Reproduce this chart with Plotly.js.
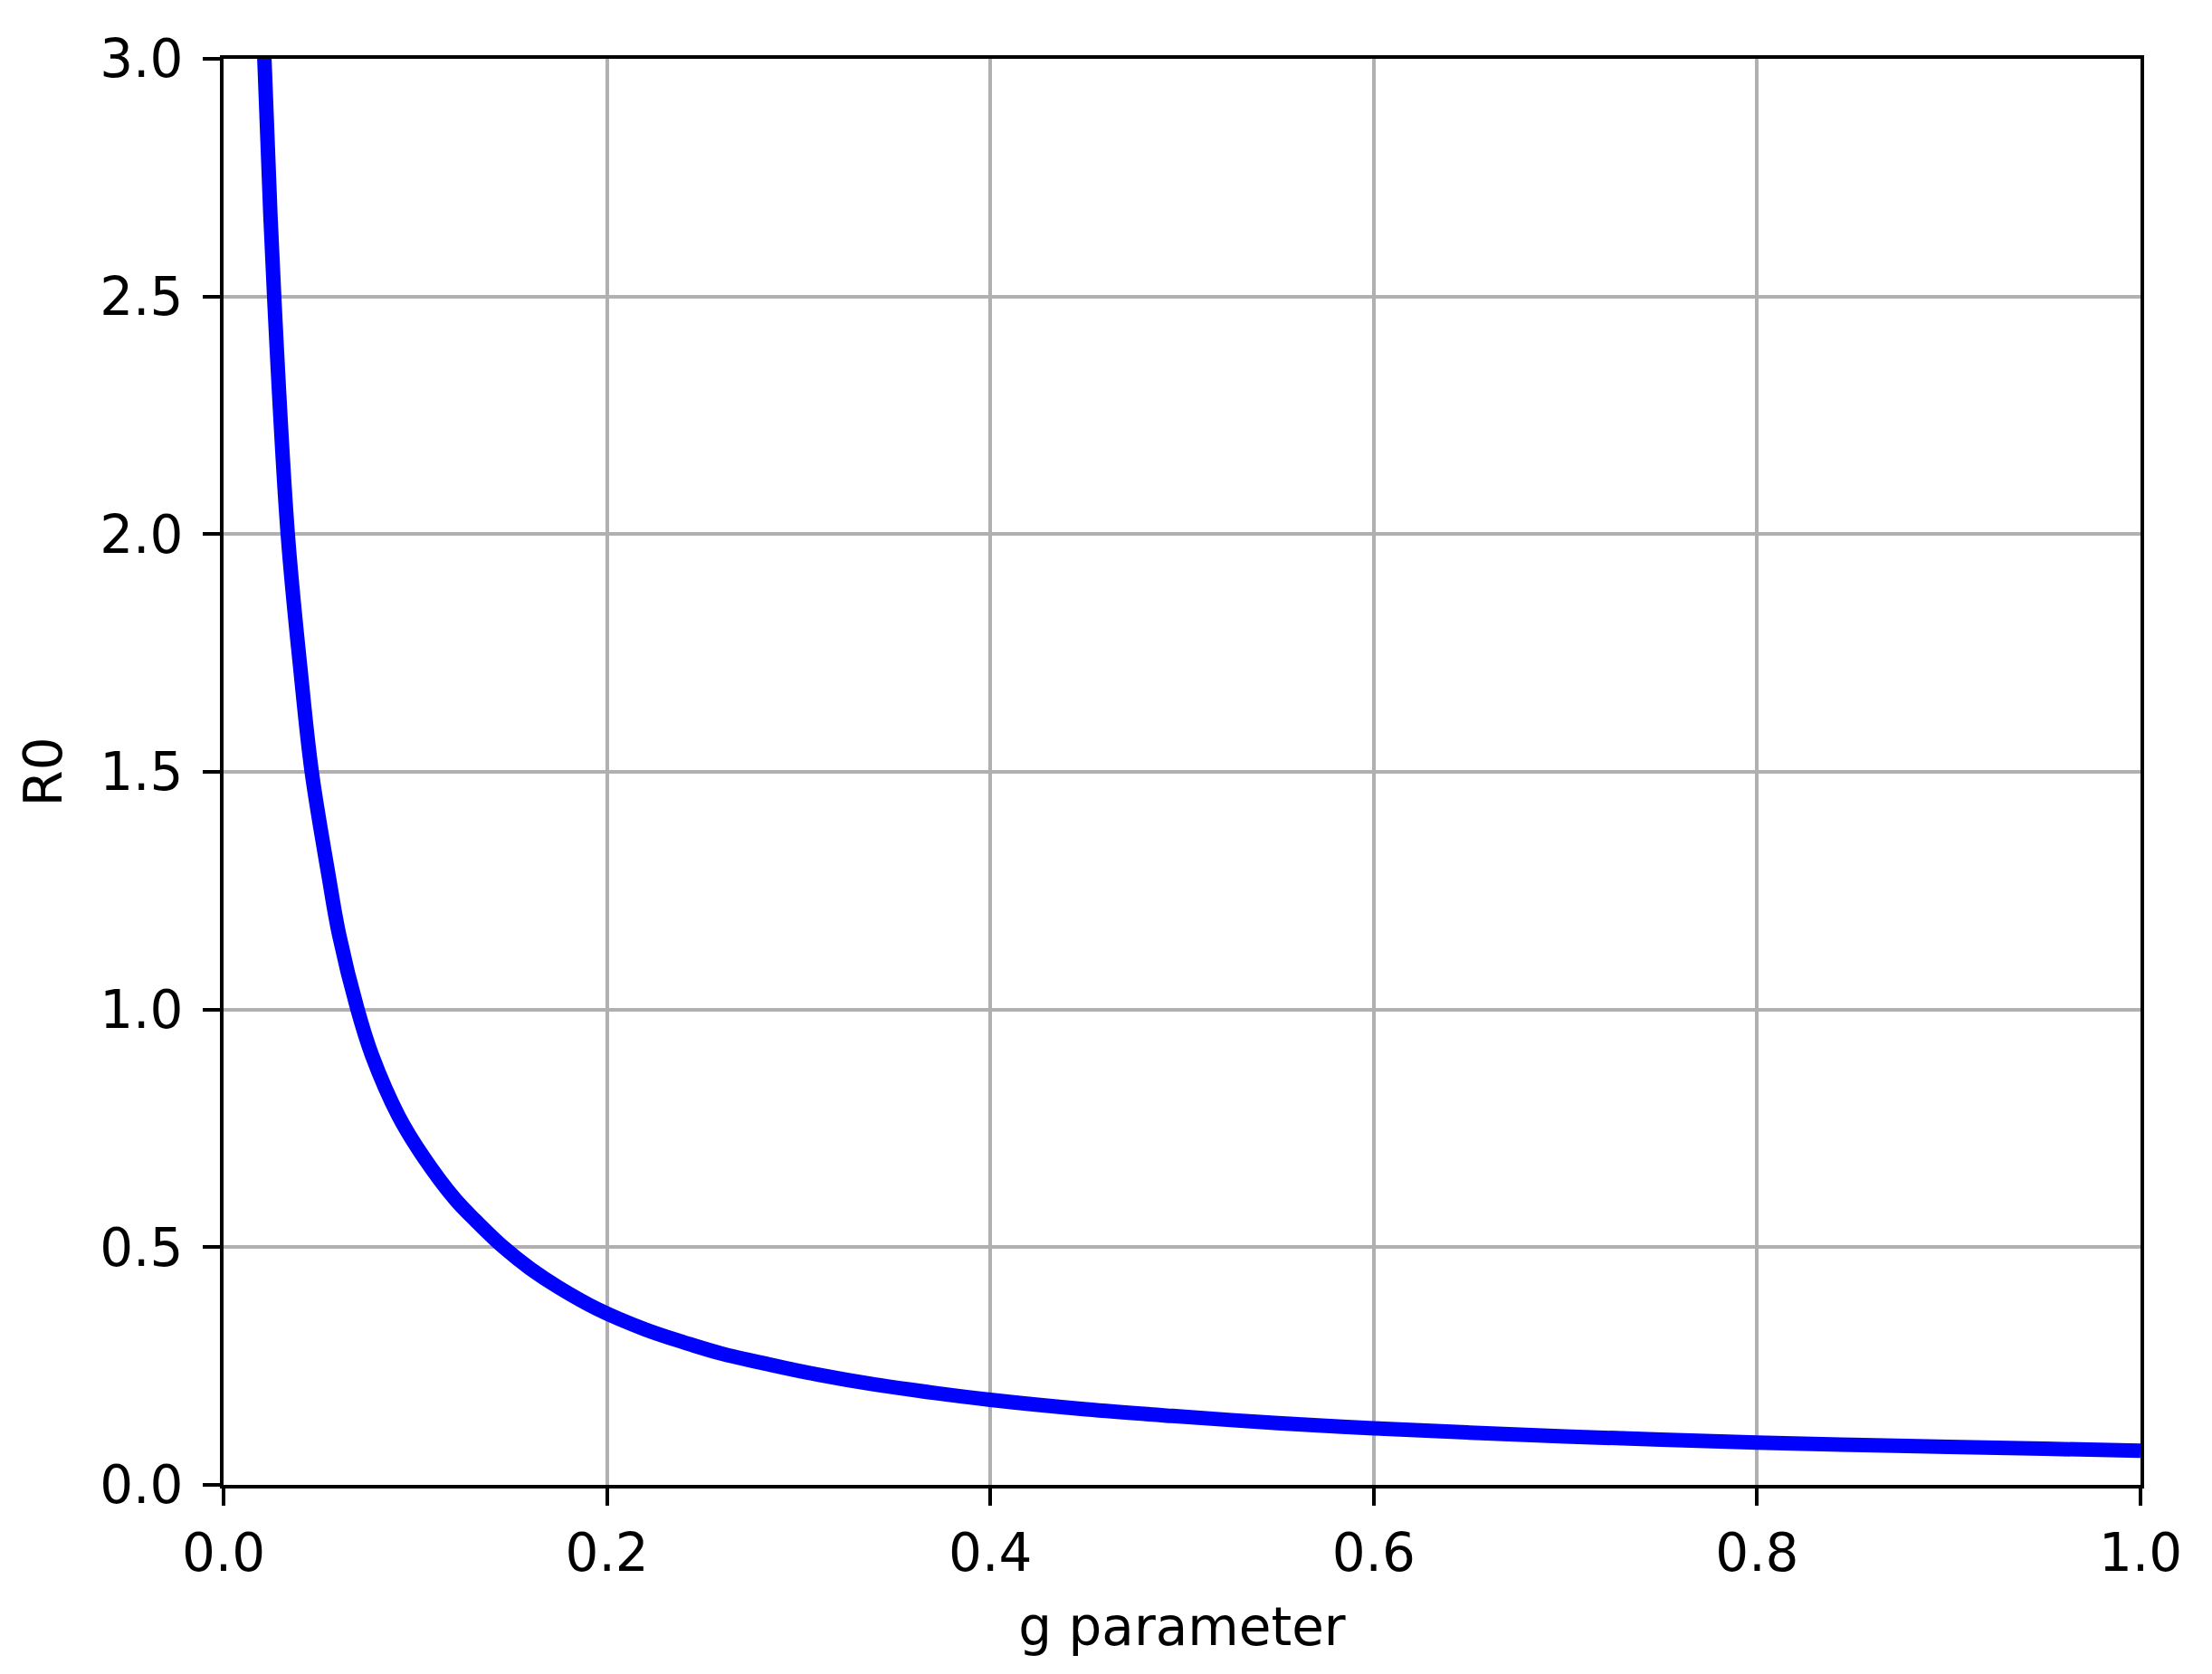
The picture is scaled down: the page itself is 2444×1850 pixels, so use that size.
<!DOCTYPE html>
<html>
<head>
<meta charset="utf-8">
<script src="https://cdn.plot.ly/plotly-3.0.1.min.js"></script>
<style>html,body{margin:0;padding:0;background:#fff;}#chart{width:2444px;height:1850px;}</style>
</head>
<body>
<div id="chart"></div>
<script>
// Values
const gValues = [0.0195, 0.0213, 0.0264, 0.0335, 0.040, 0.046, 0.0547, 0.0603, 0.0699, 0.0775, 0.0913, 0.1037, 0.121, 0.132, 0.146, 0.160, 0.175, 0.195, 0.220, 0.240, 0.260, 0.285, 0.310, 0.340, 0.370, 0.400, 0.450, 0.495, 0.550, 0.600, 0.650, 0.700, 0.750, 0.800, 0.850, 0.900, 0.950, 1.000];
const r0Values = [3.3, 3.0, 2.5, 2.0, 1.72, 1.5, 1.284, 1.157, 1.0, 0.903, 0.776, 0.6935, 0.60, 0.554, 0.50, 0.455, 0.415, 0.37, 0.327, 0.30, 0.276, 0.253, 0.232, 0.211, 0.194, 0.179, 0.159, 0.145, 0.130, 0.119, 0.110, 0.102, 0.095, 0.089, 0.084, 0.080, 0.076, 0.072];
const xTicks = [0.0, 0.2, 0.4, 0.6, 0.8, 1.0];
const yTicks = [0.0, 0.5, 1.0, 1.5, 2.0, 2.5, 3.0];
const xLabel = "g parameter";
const yLabel = "R0";

const font = {family: "DejaVu Sans", size: 58, color: "#000"};

const trace = {
  x: gValues, y: r0Values, type: "scatter", mode: "lines",
  line: {color: "#0000ff", width: 16, shape: "spline", smoothing: 1},
  hoverinfo: "skip", showlegend: false
};

const axisCommon = {
  showline: true, linecolor: "#000", linewidth: 4, mirror: true,
  ticks: "outside", ticklen: 19, tickwidth: 4, tickcolor: "#000",
  showgrid: true, gridcolor: "#b0b0b0", gridwidth: 4,
  zeroline: false, tickfont: font, automargin: false, tickformat: ".1f"
};

const layout = {
  width: 2444, height: 1850,
  margin: {l: 247, r: 79, t: 65, b: 209},
  paper_bgcolor: "#fff", plot_bgcolor: "#fff",
  font: font,
  xaxis: Object.assign({}, axisCommon, {
    range: [0, 1], tickvals: xTicks, ticktext: xTicks.map(v => v.toFixed(1)),
    ticklabelstandoff: 2,
    title: {text: xLabel, font: font, standoff: 30}
  }),
  yaxis: Object.assign({}, axisCommon, {
    range: [0, 3], tickvals: yTicks, ticktext: yTicks.map(v => v.toFixed(1)),
    ticklabelstandoff: 10,
    title: {text: yLabel, font: font, standoff: 24}
  })
};

Plotly.newPlot("chart", [trace], layout, {staticPlot: true, displayModeBar: false});
</script>
</body>
</html>
